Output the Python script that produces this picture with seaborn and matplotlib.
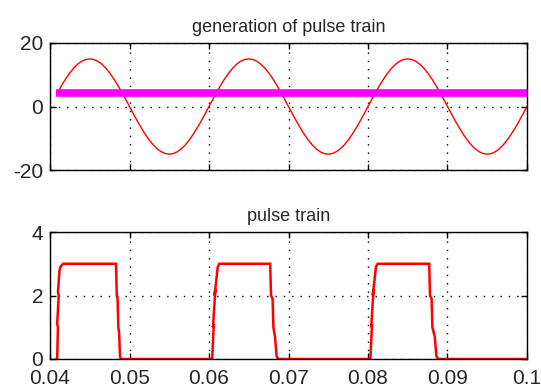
import matplotlib
matplotlib.use("Agg")
import matplotlib.pyplot as plt
import seaborn as sns
import pandas as pd

# ---- data ----
sine_t = [0.0408] + [0.0410 + 0.0005 * i for i in range(119)]
sine_v = [3.72, 4.64, 6.81, 8.82, 10.61, 12.14, 13.37, 14.27, 14.82,
          15, 14.82, 14.27, 13.37, 12.14, 10.61, 8.82, 6.81, 4.64, 2.35,
          0, -2.35, -4.64, -6.81, -8.82, -10.61, -12.14, -13.37, -14.27, -14.82,
          -15, -14.82, -14.27, -13.37, -12.14, -10.61, -8.82, -6.81, -4.64, -2.35,
          0, 2.35, 4.64, 6.81, 8.82, 10.61, 12.14, 13.37, 14.27, 14.82,
          15, 14.82, 14.27, 13.37, 12.14, 10.61, 8.82, 6.81, 4.64, 2.35,
          0, -2.35, -4.64, -6.81, -8.82, -10.61, -12.14, -13.37, -14.27, -14.82,
          -15, -14.82, -14.27, -13.37, -12.14, -10.61, -8.82, -6.81, -4.64, -2.35,
          0, 2.35, 4.64, 6.81, 8.82, 10.61, 12.14, 13.37, 14.27, 14.82,
          15, 14.82, 14.27, 13.37, 12.14, 10.61, 8.82, 6.81, 4.64, 2.35,
          0, -2.35, -4.64, -6.81, -8.82, -10.61, -12.14, -13.37, -14.27, -14.82,
          -15, -14.82, -14.27, -13.37, -12.14, -10.61, -8.82, -6.81, -4.64, -2.35,
          0]

carrier_t = [0.0408, 0.1]
carrier_v = [4.1, 4.1]

pulse_t = [0.0408, 0.0409, 0.0410, 0.0409, 0.0411, 0.0410, 0.0412, 0.0413, 0.04165,
           0.0483, 0.0484, 0.0485, 0.0486, 0.0487, 0.0488, 0.0489,
           0.0604, 0.0606, 0.0605, 0.0608, 0.0607, 0.0611, 0.0613, 0.0616,
           0.0677, 0.0678, 0.0680, 0.0681, 0.0683, 0.0685, 0.0687,
           0.0803, 0.0805, 0.0804, 0.0807, 0.0806, 0.0810, 0.0812, 0.0815,
           0.0877, 0.0878, 0.0880, 0.0881, 0.0884, 0.0886, 0.0888, 0.1000]
pulse_v = [0, 0, 1.0, 1.1, 2.0, 2.1, 2.8, 2.9, 3.0,
           3.0, 2.0, 1.9, 1.0, 0.8, 0.1, 0,
           0, 1.1, 1.0, 2.2, 2.0, 2.9, 3.0, 3.0,
           3.0, 2.0, 1.9, 1.0, 0.7, 0.1, 0,
           0, 1.1, 1.0, 2.2, 2.0, 2.9, 3.0, 3.0,
           3.0, 2.0, 1.9, 1.0, 0.7, 0.1, 0, 0]

x_ticks = [0.04, 0.05, 0.06, 0.07, 0.08, 0.09, 0.1]
x_labels = ["0.04", "0.05", "0.06", "0.07", "0.08", "0.09", "0.1"]
top_yticks = [-20, 0, 20]
bot_yticks = [0, 2, 4]
top_title = "generation of pulse train"
bot_title = "pulse train"

# ---- style ----
sns.set_theme(style="white")
plt.rcParams["font.family"] = ["Liberation Sans", "DejaVu Sans"]

W, H = 541, 388
fig = plt.figure(figsize=(W / 100, H / 100), dpi=100)
ax1 = fig.add_axes([50 / W, 1 - 170 / H, 477 / W, 127 / H])
ax2 = fig.add_axes([50 / W, 1 - 359 / H, 477 / W, 127 / H])

sine_df = pd.DataFrame({"t": sine_t, "v": sine_v})
car_df = pd.DataFrame({"t": carrier_t, "v": carrier_v})
pulse_df = pd.DataFrame({"t": pulse_t, "v": pulse_v})

sns.lineplot(data=sine_df, x="t", y="v", ax=ax1, color="#ff0000", lw=1.0,
             sort=False, estimator=None)
sns.lineplot(data=car_df, x="t", y="v", ax=ax1, color="#ff00ff", lw=5.5,
             sort=False, estimator=None, solid_capstyle="butt")
sns.lineplot(data=pulse_df, x="t", y="v", ax=ax2, color="#ff0000", lw=1.8,
             sort=False, estimator=None, solid_joinstyle="miter")

for ax, yt, title in [(ax1, top_yticks, top_title), (ax2, bot_yticks, bot_title)]:
    ax.set_xlim(0.04, 0.1)
    ax.set_ylim(yt[0], yt[-1])
    ax.set_xticks(x_ticks)
    ax.set_yticks(yt)
    ax.set_yticklabels([str(v) for v in yt], fontsize=15)
    ax.set_xlabel("")
    ax.set_ylabel("")
    ax.set_title(title, fontsize=13, pad=8)
    ax.grid(True, color="black", linestyle=(0, (1, 5)), linewidth=1.0)
    ax.set_axisbelow(True)
    ax.tick_params(direction="in", length=4, width=1, color="black",
                   top=True, right=True, bottom=True, left=True)
    ax.tick_params(axis="y", pad=5)
    ax.tick_params(axis="x", pad=7)
    for s in ax.spines.values():
        s.set_color("black")
        s.set_linewidth(1.0)
    ax.set_facecolor("white")

ax1.set_xticklabels([])
ax2.set_xticklabels(x_labels, fontsize=15)

fig.savefig("out.png", dpi=100, facecolor="white")
